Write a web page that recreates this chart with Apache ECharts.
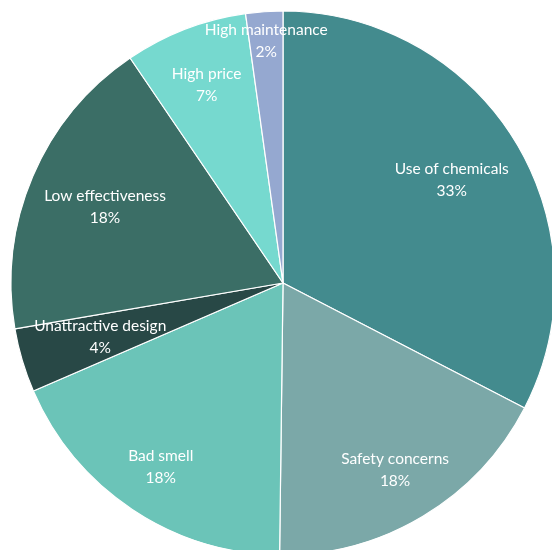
<!DOCTYPE html>
<html>
<head>
<meta charset="utf-8">
<script src="https://cdn.jsdelivr.net/npm/echarts@6/dist/echarts.min.js"></script>
<style>html,body{margin:0;padding:0;background:#fff;}#c{width:552px;height:550px;}</style>
</head>
<body>
<div id="c"></div>
<script>
const categories = ['Use of chemicals','Safety concerns','Bad smell','Unattractive design','Low effectiveness','High price','High maintenance'];
const values = [32.6, 17.6, 18.3, 3.8, 18.2, 7.3, 2.2];
const colors = ['#438B8E','#7BA8A8','#6BC4B8','#284846','#3B6E66','#76D9CF','#95A8D0'];
const labelRadiusFrac = [0.715, 0.79, 0.80, 0.69, 0.70, 0.77, 0.88];

const R = 272, CX = 283, CY = 283;
const baseData = categories.map((n, i) => ({ name: n, value: values[i] }));

const series = [{
  type: 'pie',
  center: [CX, CY],
  radius: [0, R],
  startAngle: 90,
  clockwise: true,
  silent: true,
  avoidLabelOverlap: false,
  label: { show: false },
  labelLine: { show: false },
  itemStyle: { borderColor: '#ffffff', borderWidth: 1.2 },
  data: baseData.map((d, i) => ({ ...d, itemStyle: { color: colors[i] } }))
}];

categories.forEach((n, k) => {
  const f = labelRadiusFrac[k];
  series.push({
    type: 'pie',
    center: [CX, CY],
    radius: [f * R - 60, f * R + 60],
    startAngle: 90,
    clockwise: true,
    silent: true,
    avoidLabelOverlap: false,
    labelLayout: { hideOverlap: false },
    itemStyle: { color: 'rgba(0,0,0,0)', borderWidth: 0 },
    labelLine: { show: false },
    label: { show: false },
    data: baseData.map((d, i) => ({
      ...d,
      label: {
        show: i === k,
        position: 'inside',
        color: '#ffffff',
        fontFamily: 'Lato, "Open Sans", sans-serif',
        fontSize: 15.5,
        lineHeight: 22,
        align: 'center',
        overflow: 'none',
        formatter: p => p.name + '\n' + Math.round(p.percent) + '%'
      }
    }))
  });
});

const chart = echarts.init(document.getElementById('c'), null, { renderer: 'canvas' });
chart.setOption({ animation: false, backgroundColor: '#ffffff', series });
</script>
</body>
</html>
